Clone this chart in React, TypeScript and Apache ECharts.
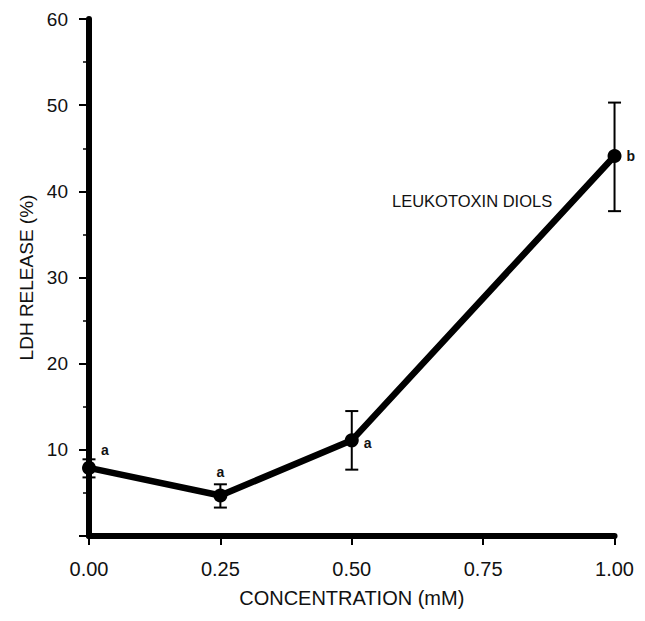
import React, { useEffect, useRef } from "react";
import * as echarts from "echarts";

const concentrations = [0.0, 0.25, 0.5, 1.0];
const ldhRelease = [7.9, 4.7, 11.1, 44.1];
const errLow = [6.8, 3.3, 7.7, 37.7];
const errHigh = [8.9, 6.0, 14.5, 50.3];
const letters = ["a", "a", "a", "b"];
const annotation = "LEUKOTOXIN DIOLS";

const FONT = "Liberation Sans, Arial, sans-serif";

export default function App() {
  const ref = useRef<HTMLDivElement>(null);
  useEffect(() => {
    if (!ref.current) return;
    const chart = echarts.init(ref.current, null, { renderer: "svg" });
    const letterOffsets: [number, number, string][] = [
      [12, -18, "left"],
      [0, -24, "center"],
      [12, 3, "left"],
      [12, 0, "left"],
    ];
    chart.setOption({
      animation: false,
      backgroundColor: "#fff",
      grid: { left: 81, right: 14, top: 11, bottom: 68, containLabel: false },
      xAxis: {
        type: "value",
        min: 0,
        max: 1,
        interval: 0.25,
        name: "CONCENTRATION (mM)",
        nameLocation: "middle",
        nameGap: 52,
        nameTextStyle: { fontFamily: FONT, fontSize: 20, color: "#111" },
        axisLine: { onZero: false, lineStyle: { color: "#000", width: 6 } },
        axisTick: { show: true, inside: false, length: 9, lineStyle: { color: "#000", width: 2 } },
        axisLabel: {
          fontFamily: FONT,
          fontSize: 20,
          color: "#111",
          margin: 23,
          formatter: (v: number) => v.toFixed(2),
        },
        splitLine: { show: false },
      },
      yAxis: {
        type: "value",
        min: 0,
        max: 60,
        interval: 10,
        name: "LDH RELEASE (%)",
        nameLocation: "middle",
        nameGap: 48,
        nameTextStyle: { fontFamily: FONT, fontSize: 19, color: "#111" },
        axisLine: { lineStyle: { color: "#000", width: 6 } },
        axisTick: { show: true, length: 10, lineStyle: { color: "#000", width: 2 } },
        minorTick: { show: true, splitNumber: 2, length: 6, lineStyle: { color: "#000", width: 1.5 } },
        axisLabel: {
          fontFamily: FONT,
          fontSize: 19,
          color: "#111",
          margin: 21,
          formatter: (v: number) => (v === 0 ? "" : String(v)),
        },
        splitLine: { show: false },
      },
      series: [
        {
          type: "custom",
          name: "errors",
          data: concentrations.map((c, i) => [c, errLow[i], errHigh[i]]),
          renderItem: (params: any, api: any) => {
            const x = api.value(0);
            const lo = api.coord([x, api.value(1)]);
            const hi = api.coord([x, api.value(2)]);
            const w = 6.5;
            const style = { stroke: "#000", lineWidth: 2 };
            return {
              type: "group",
              children: [
                { type: "line", shape: { x1: lo[0], y1: lo[1], x2: hi[0], y2: hi[1] }, style },
                { type: "line", shape: { x1: lo[0] - w, y1: lo[1], x2: lo[0] + w, y2: lo[1] }, style },
                { type: "line", shape: { x1: hi[0] - w, y1: hi[1], x2: hi[0] + w, y2: hi[1] }, style },
              ],
            };
          },
          z: 3,
        },
        {
          type: "line",
          data: concentrations.map((c, i) => [c, ldhRelease[i]]),
          symbol: "circle",
          symbolSize: 14,
          itemStyle: { color: "#000" },
          lineStyle: { color: "#000", width: 6.5 },
          z: 4,
        },
        {
          type: "custom",
          name: "letters",
          data: concentrations.map((c, i) => [c, ldhRelease[i], i]),
          renderItem: (params: any, api: any) => {
            const i = api.value(2);
            const p = api.coord([api.value(0), api.value(1)]);
            const o = letterOffsets[i];
            return {
              type: "text",
              x: p[0] + o[0],
              y: p[1] + o[1],
              style: {
                text: letters[i],
                fontFamily: FONT,
                fontSize: 14,
                fontWeight: "bold",
                fill: "#111",
                align: o[2],
                verticalAlign: "middle",
              },
            };
          },
          z: 5,
        },
      ],
      graphic: [
        {
          type: "text",
          x: 384,
          y: 193,
          style: {
            text: annotation,
            fontFamily: FONT,
            fontSize: 16.5,
            fill: "#111",
            verticalAlign: "middle",
          },
        },
      ],
    });
    return () => chart.dispose();
  }, []);
  return <div ref={ref} style={{ width: 629, height: 605 }} />;
}
